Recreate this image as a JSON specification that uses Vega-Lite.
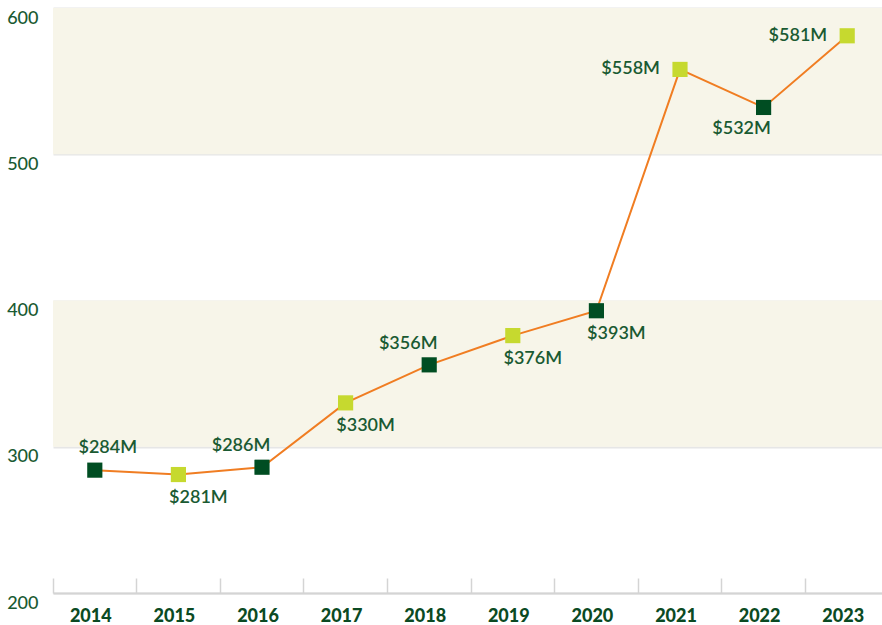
{
  "$schema": "https://vega.github.io/schema/vega-lite/v6.json",
  "width": 836,
  "height": 585,
  "autosize": {"type": "none"},
  "padding": {"left": 53, "top": 8, "right": 0, "bottom": 32},
  "background": "#ffffff",
  "config": {"view": {"stroke": null}, "font": "Lato"},
  "datasets": {
    "bands": [{"lo": 300, "hi": 400}, {"lo": 500, "hi": 600}],
    "vals": [
      {"year": "2014", "value": 284, "label": "$284M", "tone": "dark", "place": "A"},
      {"year": "2015", "value": 281, "label": "$281M", "tone": "light", "place": "C"},
      {"year": "2016", "value": 286, "label": "$286M", "tone": "dark", "place": "B"},
      {"year": "2017", "value": 330, "label": "$330M", "tone": "light", "place": "C"},
      {"year": "2018", "value": 356, "label": "$356M", "tone": "dark", "place": "B"},
      {"year": "2019", "value": 376, "label": "$376M", "tone": "light", "place": "C"},
      {"year": "2020", "value": 393, "label": "$393M", "tone": "dark", "place": "C"},
      {"year": "2021", "value": 558, "label": "$558M", "tone": "light", "place": "E"},
      {"year": "2022", "value": 532, "label": "$532M", "tone": "dark", "place": "D"},
      {"year": "2023", "value": 581, "label": "$581M", "tone": "light", "place": "E"}
    ]
  },
  "layer": [
    {
      "data": {"name": "bands"},
      "mark": {"type": "rect", "color": "#f7f5e9"},
      "encoding": {
        "y": {"field": "lo", "type": "quantitative", "scale": {"domain": [200, 600], "nice": false, "zero": false},
          "axis": {"values": [200, 300, 400, 500, 600], "title": null, "domain": false, "ticks": false,
            "grid": true, "gridColor": "#e6e6e6", "gridWidth": 2,
            "labelAlign": "right", "labelPadding": 15, "labelOffset": 10, "labelBaseline": "middle",
            "labelFontSize": 18, "labelFontWeight": 500, "labelColor": "#1a5a32", "labelFont": "Lato"}},
        "y2": {"field": "hi"}
      }
    },
    {
      "data": {"name": "vals"},
      "layer": [
        {
          "mark": {"type": "line", "color": "#f07d22", "strokeWidth": 2},
          "encoding": {
            "x": {"field": "year", "type": "ordinal", "scale": {"type": "band", "paddingInner": 0, "paddingOuter": 0},
              "axis": {"title": null, "bandPosition": 0, "domainColor": "#d4d4d4", "domainWidth": 2,
                "tickColor": "#d4d4d4", "tickWidth": 1.5, "tickSize": -15, "grid": false,
                "labelAngle": 0, "labelFontSize": 18, "labelFontWeight": 900, "labelColor": "#0b4a23",
                "labelPadding": 29, "labelOffset": -4, "labelFont": "Lato"}},
            "y": {"field": "value", "type": "quantitative"}
          }
        },
        {
          "mark": {"type": "square", "filled": true, "size": 230, "opacity": 1},
          "encoding": {
            "x": {"field": "year", "type": "ordinal"},
            "y": {"field": "value", "type": "quantitative"},
            "color": {"field": "tone", "type": "nominal", "scale": {"domain": ["dark", "light"], "range": ["#004d22", "#c6d92f"]}, "legend": null}
          }
        },
        {
          "transform": [{"filter": "datum.place == 'A'"}],
          "mark": {"type": "text", "fontSize": 18, "fontWeight": 600, "color": "#1a5a32", "dx": 13, "dy": -22, "align": "center", "baseline": "middle"},
          "encoding": {"x": {"field": "year", "type": "ordinal"}, "y": {"field": "value", "type": "quantitative"}, "text": {"field": "label"}}
        },
        {
          "transform": [{"filter": "datum.place == 'B'"}],
          "mark": {"type": "text", "fontSize": 18, "fontWeight": 600, "color": "#1a5a32", "dx": -21, "dy": -21, "align": "center", "baseline": "middle"},
          "encoding": {"x": {"field": "year", "type": "ordinal"}, "y": {"field": "value", "type": "quantitative"}, "text": {"field": "label"}}
        },
        {
          "transform": [{"filter": "datum.place == 'C'"}],
          "mark": {"type": "text", "fontSize": 18, "fontWeight": 600, "color": "#1a5a32", "dx": 20, "dy": 23, "align": "center", "baseline": "middle"},
          "encoding": {"x": {"field": "year", "type": "ordinal"}, "y": {"field": "value", "type": "quantitative"}, "text": {"field": "label"}}
        },
        {
          "transform": [{"filter": "datum.place == 'D'"}],
          "mark": {"type": "text", "fontSize": 18, "fontWeight": 600, "color": "#1a5a32", "dx": -22, "dy": 22, "align": "center", "baseline": "middle"},
          "encoding": {"x": {"field": "year", "type": "ordinal"}, "y": {"field": "value", "type": "quantitative"}, "text": {"field": "label"}}
        },
        {
          "transform": [{"filter": "datum.place == 'E'"}],
          "mark": {"type": "text", "fontSize": 18, "fontWeight": 600, "color": "#1a5a32", "dx": -20, "dy": 0, "align": "right", "baseline": "middle"},
          "encoding": {"x": {"field": "year", "type": "ordinal"}, "y": {"field": "value", "type": "quantitative"}, "text": {"field": "label"}}
        }
      ]
    }
  ]
}
